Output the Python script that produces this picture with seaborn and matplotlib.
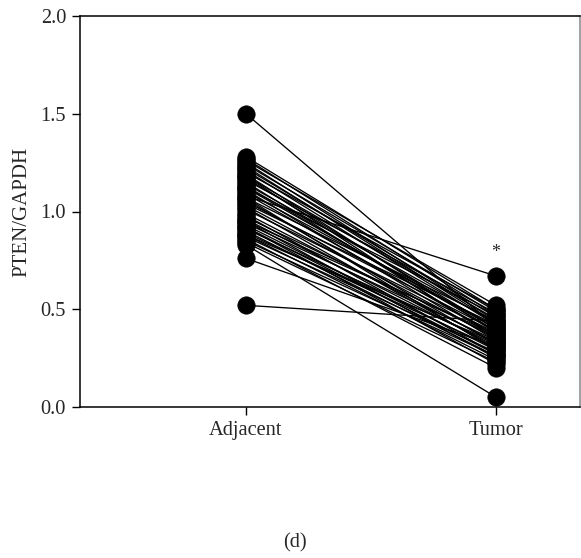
import matplotlib
matplotlib.use("Agg")
import matplotlib.pyplot as plt
import seaborn as sns
import pandas as pd

groups = ["Adjacent", "Tumor"]
adjacent = [1.50, 1.28, 1.27, 1.26, 1.25, 1.24, 1.23, 1.22, 1.21, 1.20, 1.19,
            1.18, 1.17, 1.16, 1.15, 1.14, 1.13, 1.12, 1.11, 1.10, 1.09,
            1.08, 1.07, 1.06, 1.05, 1.04, 1.03, 1.02, 1.01, 0.99, 0.98,
            0.97, 0.96, 0.95, 0.94, 0.93, 0.92, 0.91, 0.90, 0.89, 0.88,
            0.87, 0.86, 0.85, 0.84, 0.83, 0.76, 0.52,
            1.12, 1.07, 0.95, 0.88, 1.18, 0.92]
tumor = [0.41, 0.50, 0.47, 0.52, 0.44, 0.49, 0.43, 0.46, 0.42, 0.50, 0.38,
         0.45, 0.40, 0.48, 0.36, 0.43, 0.39, 0.47, 0.34, 0.41, 0.37,
         0.67, 0.44, 0.32, 0.39, 0.42, 0.35, 0.30, 0.38, 0.33, 0.27,
         0.36, 0.31, 0.25, 0.34, 0.29, 0.22, 0.32, 0.26, 0.30, 0.24,
         0.28, 0.20, 0.26, 0.23, 0.05, 0.31, 0.44,
         0.40, 0.29, 0.37, 0.33, 0.35, 0.27]
y_ticks = [0.0, 0.5, 1.0, 1.5, 2.0]
y_label = "PTEN/GAPDH"
panel = "(d)"

rows = []
for i, (a, t) in enumerate(zip(adjacent, tumor)):
    rows.append({"pair": i, "group": groups[0], "value": a})
    rows.append({"pair": i, "group": groups[1], "value": t})
df = pd.DataFrame(rows)

sns.set_style("white")
plt.rcParams["font.family"] = ["Liberation Serif", "DejaVu Serif"]

fig = plt.figure(figsize=(5.81, 5.58), dpi=100)
ax = fig.add_axes([80/581, (558-407)/558, 500/581, 391/558])

sns.lineplot(data=df, x="group", y="value", units="pair", estimator=None,
             color="black", linewidth=0.95, marker="o", markersize=12.5,
             markeredgecolor="black", markeredgewidth=0.5, ax=ax,
             sort=False)

ax.set_xlim(-0.664, 1.336)
ax.set_ylim(0, 2.0)
ax.set_yticks(y_ticks)
ax.set_yticklabels([f"{v:.1f}" for v in y_ticks])
ax.set_xticks([0, 1])
ax.set_xticklabels(groups)
ax.set_xlabel("")
ax.set_ylabel(y_label, fontsize=15, labelpad=7)
ax.tick_params(axis="both", labelsize=14.7, length=6, width=1, color="black",
               direction="out", left=True, bottom=True, pad=4)
for s in ax.spines.values():
    s.set_color("black")
    s.set_linewidth(1.1)
ax.spines["right"].set_color("#888888")

ax.text(1, 0.79, "*", ha="center", va="center", fontsize=13)
fig.text(295/581, 1 - 543/558, panel, ha="center", va="center", fontsize=14.7)

fig.savefig("out.png", dpi=100)
